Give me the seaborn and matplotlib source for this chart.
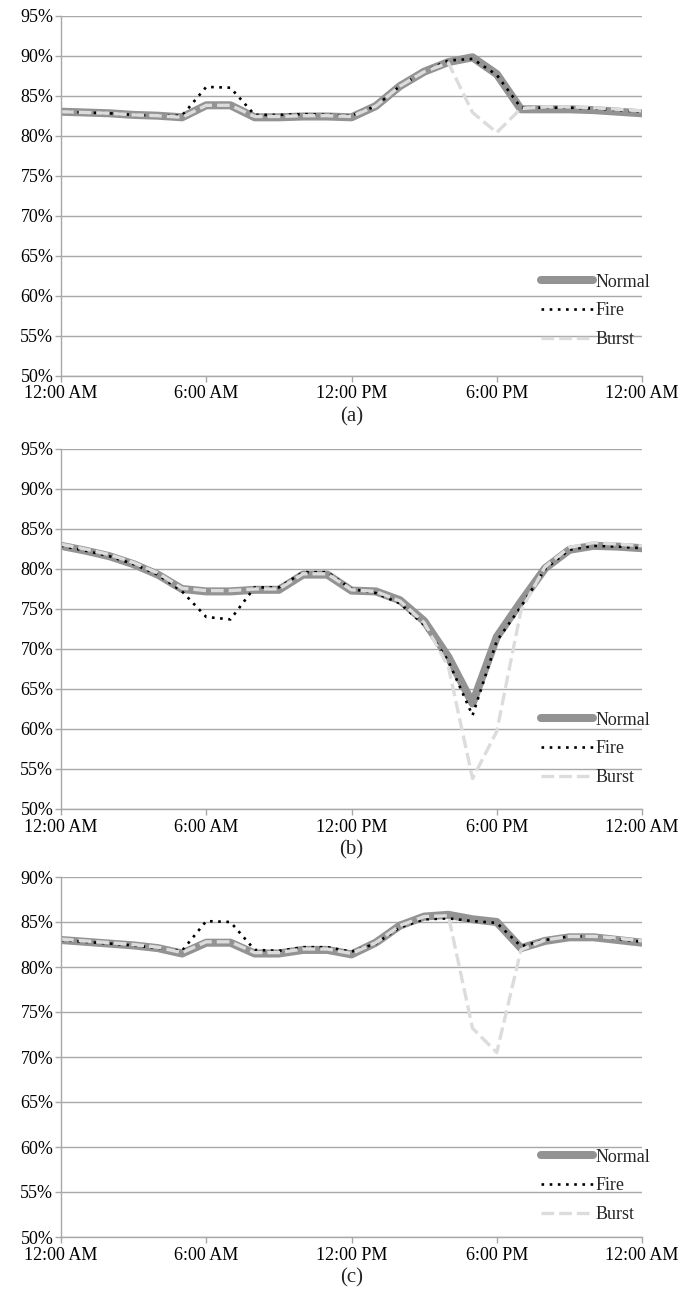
import numpy as np
import pandas as pd
import matplotlib
matplotlib.use("Agg")
import matplotlib.pyplot as plt
from matplotlib.ticker import PercentFormatter, FixedLocator, FixedFormatter
import seaborn as sns

sns.set_style("white")
plt.rcParams['font.family'] = ['Liberation Serif', 'DejaVu Serif']

hours = list(range(25))
x_tick_hours = [0, 6, 12, 18, 24]
x_tick_labels = ["12:00 AM", "6:00 AM", "12:00 PM", "6:00 PM", "12:00 AM"]
series_names = ["Normal", "Fire", "Burst"]
captions = ["(a)", "(b)", "(c)"]

a_normal = [83.0, 82.9, 82.8, 82.6, 82.5, 82.3, 83.8, 83.8, 82.3, 82.3, 82.4, 82.4, 82.3,
            83.7, 86.2, 88.0, 89.2, 89.8, 87.7, 83.3, 83.3, 83.3, 83.2, 83.0, 82.8]
a_fire = [83.0, 82.9, 82.8, 82.6, 82.5, 82.5, 86.1, 86.0, 82.6, 82.6, 82.7, 82.6, 82.5,
          83.7, 86.2, 88.0, 89.4, 89.6, 87.6, 83.5, 83.5, 83.5, 83.4, 83.2, 83.0]
a_burst = [83.0, 82.9, 82.8, 82.6, 82.5, 82.3, 83.8, 83.8, 82.4, 82.4, 82.5, 82.5, 82.4,
           83.7, 86.2, 88.0, 89.1, 82.9, 80.4, 83.4, 83.6, 83.6, 83.5, 83.3, 83.1]

b_normal = [82.9, 82.3, 81.6, 80.6, 79.3, 77.5, 77.2, 77.2, 77.4, 77.4, 79.3, 79.3, 77.3,
            77.2, 76.1, 73.5, 69.0, 63.2, 71.5, 75.9, 80.1, 82.4, 82.9, 82.8, 82.6]
b_fire = [82.9, 82.3, 81.6, 80.6, 79.3, 77.2, 74.0, 73.7, 77.7, 77.7, 79.6, 79.6, 77.5,
          77.0, 75.7, 73.0, 68.5, 61.7, 71.0, 75.3, 80.0, 82.4, 82.9, 82.8, 82.6]
b_burst = [83.1, 82.5, 81.8, 80.8, 79.5, 77.6, 77.3, 77.3, 77.5, 77.5, 79.4, 79.4, 77.4,
           77.2, 76.0, 73.3, 67.8, 53.8, 59.7, 74.8, 80.3, 82.7, 83.3, 83.1, 82.9]

c_normal = [83.0, 82.8, 82.6, 82.4, 82.1, 81.5, 82.7, 82.7, 81.5, 81.5, 81.9, 81.9, 81.4,
            82.7, 84.6, 85.6, 85.8, 85.3, 85.0, 82.1, 82.9, 83.3, 83.3, 83.0, 82.7]
c_fire = [83.0, 82.8, 82.6, 82.4, 82.1, 81.8, 85.1, 85.0, 81.9, 81.8, 82.2, 82.2, 81.7,
          82.6, 84.4, 85.3, 85.4, 85.1, 84.9, 82.3, 83.0, 83.4, 83.4, 83.1, 82.8]
c_burst = [83.1, 82.9, 82.7, 82.5, 82.2, 81.6, 82.8, 82.8, 81.6, 81.6, 82.0, 82.0, 81.5,
           82.7, 84.6, 85.6, 85.7, 73.2, 70.5, 81.9, 83.0, 83.4, 83.4, 83.2, 82.9]

panels = [
    dict(data=[a_normal, a_fire, a_burst], ymax=95, leg_y=0.18),
    dict(data=[b_normal, b_fire, b_burst], ymax=95, leg_y=0.167),
    dict(data=[c_normal, c_fire, c_burst], ymax=90, leg_y=0.142),
]

styles = {
    "Normal": dict(color="#939393", lw=5.8, ls="-", solid_capstyle="round"),
    "Fire": dict(color="#000000", lw=1.9, ls=(0, (1, 2.1))),
    "Burst": dict(color="#dcdcdc", lw=2.4, ls=(0, (3.8, 1.5))),
}

W, H = 690, 1291
fig = plt.figure(figsize=(W / 100, H / 100), dpi=100)
ax_left = 61 / W
ax_w = 581 / W
ax_h = 360 / H
bottoms_px = [375.7, 809, 1237]
grid_c = "#a8a8a8"

for i, p in enumerate(panels):
    ax = fig.add_axes([ax_left, 1 - bottoms_px[i] / H, ax_w, ax_h])
    for name, vals in zip(series_names, p["data"]):
        df = pd.DataFrame({"hour": hours, "value": vals})
        st = styles[name]
        kw = dict(color=st["color"], linewidth=st["lw"], linestyle=st["ls"])
        if "solid_capstyle" in st:
            kw["solid_capstyle"] = st["solid_capstyle"]
        sns.lineplot(data=df, x="hour", y="value", ax=ax, label=name, **kw)
    ax.set_xlim(0, 24)
    ax.set_ylim(50, p["ymax"])
    yt = list(range(50, p["ymax"] + 1, 5))
    ax.yaxis.set_major_locator(FixedLocator(yt))
    ax.yaxis.set_major_formatter(PercentFormatter(decimals=0))
    ax.xaxis.set_major_locator(FixedLocator(x_tick_hours))
    ax.xaxis.set_major_formatter(FixedFormatter(x_tick_labels))
    ax.set_xlabel("")
    ax.set_ylabel("")
    ax.grid(axis="y", color=grid_c, linewidth=1.0)
    ax.grid(axis="x", visible=False)
    ax.set_axisbelow(True)
    for s in ["top", "right"]:
        ax.spines[s].set_visible(False)
    for s in ["left", "bottom"]:
        ax.spines[s].set_color(grid_c)
        ax.spines[s].set_linewidth(1.0)
    ax.tick_params(axis="both", which="major", length=4, width=1.0, color=grid_c,
                   labelsize=13, labelcolor="black", direction="out", bottom=True, left=True)
    ax.tick_params(axis="x", pad=3)
    ax.tick_params(axis="y", pad=1.5)
    leg = ax.legend(loc="center left", bbox_to_anchor=(0.826, p["leg_y"]),
                    frameon=False, fontsize=13, borderpad=0, borderaxespad=0,
                    handlelength=2.9, handletextpad=0.12, labelspacing=0.65)
    cx = ax_left + ax_w / 2
    fig.text(cx, 1 - (bottoms_px[i] + 41) / H, captions[i], ha="center", va="center",
             fontsize=15)

fig.savefig("out.png", dpi=100)
